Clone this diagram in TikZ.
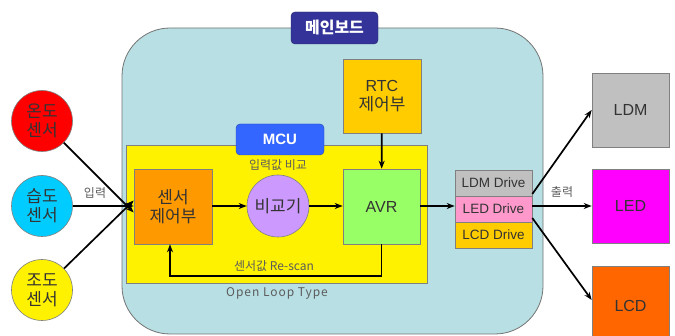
\documentclass[tikz,border=0pt]{standalone}
\usepackage{fontspec}
\setmainfont{Liberation Sans}
\newfontfamily\kr{Noto Sans CJK KR}
\usetikzlibrary{arrows.meta,positioning}
\definecolor{boardfill}{HTML}{B8DFE3}
\definecolor{labelblue}{HTML}{333399}
\definecolor{mcublue}{HTML}{3366FF}
\definecolor{gold}{HTML}{FFCC00}
\definecolor{sorange}{HTML}{FF9900}
\definecolor{lilac}{HTML}{CC99FF}
\definecolor{lgreen}{HTML}{99FF66}
\definecolor{lgray}{HTML}{C0C0C0}
\definecolor{pinkd}{HTML}{FF99CC}
\definecolor{ored}{HTML}{FF6600}
\definecolor{skyb}{HTML}{00CCFF}
\definecolor{pmag}{HTML}{FF00FF}
\definecolor{txt}{HTML}{333333}
\tikzset{
  box/.style={draw=gray, line width=0.6pt, inner sep=0pt, align=center, text=txt},
  sensor/.style={circle, draw=gray, line width=0.6pt, minimum size=61pt, inner sep=0pt, align=center, font=\kr\fontsize{17}{19}\selectfont, text=txt},
  arr/.style={-{Stealth[length=8pt,width=6pt]}, line width=1.7pt, black},
  lbl/.style={font=\kr\fontsize{12}{14}\selectfont, text=txt!80},
  drv/.style={box, minimum width=77pt, minimum height=26pt, font=\fontsize{13.5}{15}\selectfont},
  outb/.style={box, minimum width=77pt, minimum height=74pt, font=\fontsize{16}{18}\selectfont},
}
\begin{document}
\begin{tikzpicture}[x=1pt,y=-1pt]
\useasboundingbox (0,0) rectangle (675,336);
% main board
\node[draw=gray!90!black, fill=boardfill, line width=0.8pt, rounded corners=48pt,
  minimum width=421pt, minimum height=306pt, inner sep=0pt] (board) at (332.5,181) {};
\node[fill=labelblue, draw=labelblue!70!black, rounded corners=4pt, minimum width=87pt, minimum height=32pt,
  inner sep=0pt, text=white, font=\kr\bfseries\fontsize{16}{18}\selectfont] (blabel) at (334.5,28) {메인보드};
% RTC
\node[box, fill=gold, minimum width=78pt, minimum height=74pt, font=\fontsize{16}{19}\selectfont] (rtc) at (382,96) {RTC\\{\kr\fontsize{17}{19}\selectfont 제어부}};
% MCU area
\node[box, fill=yellow, minimum width=301pt, minimum height=138pt] (mcu) at (276.5,214) {};
\node[fill=mcublue, draw=mcublue!70!black, rounded corners=4pt, minimum width=88pt, minimum height=31pt,
  inner sep=0pt, text=white, font=\bfseries\fontsize{15}{17}\selectfont] (mculabel) at (280,139.5) {MCU};
\node[box, fill=sorange, minimum width=78pt, minimum height=75pt, font=\kr\fontsize{17}{19}\selectfont] (sctl) at (173,206.5) {센서\\제어부};
\node[circle, draw=gray, line width=0.6pt, fill=lilac, minimum size=62pt, inner sep=0pt, text=txt,
  font=\kr\fontsize{17}{19}\selectfont] (cmp) at (278,206) {비교기};
\node[box, fill=lgreen, minimum width=77pt, minimum height=75pt, font=\fontsize{16}{18}\selectfont] (avr) at (381.5,206.5) {AVR};
\node[lbl] (cmplbl) at (278,165) {입력값 비교};
\node[lbl] (rescan) at (274,266) {센서값 Re-scan};
\node[lbl, font=\kr\fontsize{12}{14}\selectfont\addfontfeature{LetterSpace=8}] (openloop) at (277,293) {Open Loop Type};
% drives
\node[drv, fill=lgray] (ldmd) at (493.5,183) {LDM Drive};
\node[drv, fill=pinkd] (ledd) at (493.5,209) {LED Drive};
\node[drv, fill=gold] (lcdd) at (493.5,235) {LCD Drive};
% outputs
\node[outb, fill=lgray] (ldm) at (630.5,110) {LDM};
\node[outb, fill=pmag] (led) at (630.5,206) {LED};
\node[outb, fill=ored, minimum height=80pt] (lcd) at (630.5,306) {LCD};
% sensors
\node[sensor, fill=red] (temp) at (42,121) {온도\\센서};
\node[sensor, fill=skyb] (hum) at (42,206) {습도\\센서};
\node[sensor, fill=yellow] (lux) at (42,290) {조도\\센서};
\node[lbl] (inlbl) at (95,193) {입력};
\node[lbl] (outlbl) at (562,192) {출력};
% connectors
\draw[arr] (temp) -- ([yshift=-6pt]sctl.west);
\draw[arr] (hum) -- (sctl.west |- hum);
\draw[arr] (lux) -- ([yshift=6pt]sctl.west);
\draw[arr] (sctl.east |- cmp) -- (cmp);
\draw[arr] (cmp) -- (avr.west |- cmp);
\draw[arr] (rtc) -- (avr);
\draw[arr] (avr.south) -- ++(0,32) -| (sctl.south -| 170,0);
\draw[arr] (avr.east |- cmp) -- (ledd.west |- cmp);
\draw[arr] ([yshift=15pt]ledd.east) -- (ldm.west);
\draw[arr] (ledd.east |- cmp) -- (led.west);
\draw[arr] ([yshift=-9pt]ledd.east) -- (lcd.west |- 0,300);
\end{tikzpicture}
\end{document}
